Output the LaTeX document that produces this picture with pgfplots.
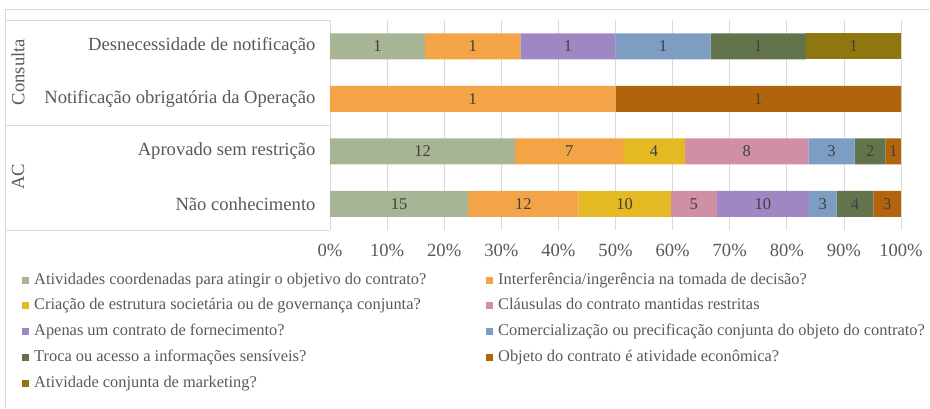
\documentclass[border=0pt]{standalone}
\usepackage{fontspec}
\setmainfont{Liberation Serif}
\usepackage{pgfplots}
\usepackage{pgfplotstable}
\pgfplotsset{compat=1.18}
\definecolor{c1}{HTML}{A7B594}
\definecolor{c2}{HTML}{F3A446}
\definecolor{c3}{HTML}{E4B924}
\definecolor{c4}{HTML}{D08FA4}
\definecolor{c5}{HTML}{9E87C2}
\definecolor{c6}{HTML}{7E9DC3}
\definecolor{c7}{HTML}{63744C}
\definecolor{c8}{HTML}{B1640C}
\definecolor{c9}{HTML}{90760F}
\definecolor{txt}{HTML}{595959}
\definecolor{gridc}{HTML}{D9D9D9}
\definecolor{lab}{HTML}{404040}
\pgfplotstableread{
cat s1 s2 s3 s4 s5 s6 s7 s8 s9 total
0 15 12 10 5 10 3 4 3 0 62
1 12 7 4 8 0 3 2 1 0 37
2 0 1 0 0 0 0 0 1 0 2
3 1 1 0 0 1 1 1 0 1 6
}\datatable
\newcommand\cw[1]{\makebox[452pt][l]{#1}}
\newcommand\bigf{\fontsize{18.6}{20}\selectfont}
\begin{document}
\begin{tikzpicture}[x=1pt,y=1pt]
\useasboundingbox (0,0) rectangle (930,408);
\draw[gridc, line width=1pt] (5,0) -- (5,398) -- (930,398);
\draw[gridc, line width=0.8pt] (5,388) -- (330,388) (5,283) -- (330,283) (5,178) -- (330,178);
\node[rotate=90, text=txt, font=\bigf] at (18,336) {Consulta};
\node[rotate=90, text=txt, font=\bigf] at (18,231) {AC};
\begin{axis}[
  at={(330pt,178pt)}, anchor=south west,
  width=571pt, height=210pt, scale only axis,
  xbar stacked, bar width=26pt,
  xmin=0, xmax=100, ymin=-0.5, ymax=3.5,
  xtick={0,10,...,100}, ytick={0,1,2,3},
  yticklabels={Não conhecimento, Aprovado sem restrição, Notificação obrigatória da Operação, Desnecessidade de notificação},
  xticklabel={\pgfmathprintnumber{\tick}\%},
  /pgf/number format/assume math mode=true,
  major tick length=0pt,
  axis line style={draw=none},
  xmajorgrids, grid style={gridc, line width=0.8pt},
  ticklabel style={text=txt, font=\bigf},
  xticklabel style={yshift=-11pt},
  yticklabel style={xshift=-11pt},
  legend columns=2, legend cell align=left,
  legend image code/.code={\fill[#1] (0pt,-3.5pt) rectangle (7pt,3.5pt);},
  legend style={at={(-0.5394,-0.2)}, anchor=north west, draw=none, fill=none,
    inner sep=0pt, column sep=0pt, row sep=9.75pt,
    font=\fontsize{16.4}{18}\selectfont, text=txt,
    nodes={inner sep=0pt, text height=12pt, text depth=4pt},
    /tikz/every odd column/.style={column sep=5pt}},
]
\addplot[fill=c1, draw=none] table[y=cat, x expr=\thisrow{s1}/\thisrow{total}*100] {\datatable};
\addlegendentry{\cw{Atividades coordenadas para atingir o objetivo do contrato?}}
\addplot[fill=c2, draw=none] table[y=cat, x expr=\thisrow{s2}/\thisrow{total}*100] {\datatable};
\addlegendentry{Interferência/ingerência na tomada de decisão?}
\addplot[fill=c3, draw=none] table[y=cat, x expr=\thisrow{s3}/\thisrow{total}*100] {\datatable};
\addlegendentry{\cw{Criação de estrutura societária ou de governança conjunta?}}
\addplot[fill=c4, draw=none] table[y=cat, x expr=\thisrow{s4}/\thisrow{total}*100] {\datatable};
\addlegendentry{Cláusulas do contrato mantidas restritas}
\addplot[fill=c5, draw=none] table[y=cat, x expr=\thisrow{s5}/\thisrow{total}*100] {\datatable};
\addlegendentry{\cw{Apenas um contrato de fornecimento?}}
\addplot[fill=c6, draw=none] table[y=cat, x expr=\thisrow{s6}/\thisrow{total}*100] {\datatable};
\addlegendentry{Comercialização ou precificação conjunta do objeto do contrato?}
\addplot[fill=c7, draw=none] table[y=cat, x expr=\thisrow{s7}/\thisrow{total}*100] {\datatable};
\addlegendentry{\cw{Troca ou acesso a informações sensíveis?}}
\addplot[fill=c8, draw=none] table[y=cat, x expr=\thisrow{s8}/\thisrow{total}*100] {\datatable};
\addlegendentry{Objeto do contrato é atividade econômica?}
\addplot[fill=c9, draw=none] table[y=cat, x expr=\thisrow{s9}/\thisrow{total}*100] {\datatable};
\addlegendentry{\cw{Atividade conjunta de marketing?}}
\end{axis}
\begin{axis}[
  at={(330pt,178pt)}, anchor=south west,
  width=571pt, height=210pt, scale only axis,
  xmin=0, xmax=100, ymin=-0.5, ymax=3.5,
  hide axis, clip=false,
  point meta=explicit symbolic,
  nodes near coords={\ifnum\pgfplotspointmeta=0 \else\pgfplotspointmeta\fi},
  every node near coord/.style={anchor=center, text=lab, font=\fontsize{16.5}{18}\selectfont, inner sep=0pt},
]
\addplot[draw=none] table[y=cat, meta=s1, x expr=(0.5*\thisrow{s1})/\thisrow{total}*100] {\datatable};
\addplot[draw=none] table[y=cat, meta=s2, x expr=(\thisrow{s1}+0.5*\thisrow{s2})/\thisrow{total}*100] {\datatable};
\addplot[draw=none] table[y=cat, meta=s3, x expr=(\thisrow{s1}+\thisrow{s2}+0.5*\thisrow{s3})/\thisrow{total}*100] {\datatable};
\addplot[draw=none] table[y=cat, meta=s4, x expr=(\thisrow{s1}+\thisrow{s2}+\thisrow{s3}+0.5*\thisrow{s4})/\thisrow{total}*100] {\datatable};
\addplot[draw=none] table[y=cat, meta=s5, x expr=(\thisrow{s1}+\thisrow{s2}+\thisrow{s3}+\thisrow{s4}+0.5*\thisrow{s5})/\thisrow{total}*100] {\datatable};
\addplot[draw=none] table[y=cat, meta=s6, x expr=(\thisrow{s1}+\thisrow{s2}+\thisrow{s3}+\thisrow{s4}+\thisrow{s5}+0.5*\thisrow{s6})/\thisrow{total}*100] {\datatable};
\addplot[draw=none] table[y=cat, meta=s7, x expr=(\thisrow{s1}+\thisrow{s2}+\thisrow{s3}+\thisrow{s4}+\thisrow{s5}+\thisrow{s6}+0.5*\thisrow{s7})/\thisrow{total}*100] {\datatable};
\addplot[draw=none] table[y=cat, meta=s8, x expr=(\thisrow{s1}+\thisrow{s2}+\thisrow{s3}+\thisrow{s4}+\thisrow{s5}+\thisrow{s6}+\thisrow{s7}+0.5*\thisrow{s8})/\thisrow{total}*100] {\datatable};
\addplot[draw=none] table[y=cat, meta=s9, x expr=(\thisrow{s1}+\thisrow{s2}+\thisrow{s3}+\thisrow{s4}+\thisrow{s5}+\thisrow{s6}+\thisrow{s7}+\thisrow{s8}+0.5*\thisrow{s9})/\thisrow{total}*100] {\datatable};
\end{axis}
\end{tikzpicture}
\end{document}
